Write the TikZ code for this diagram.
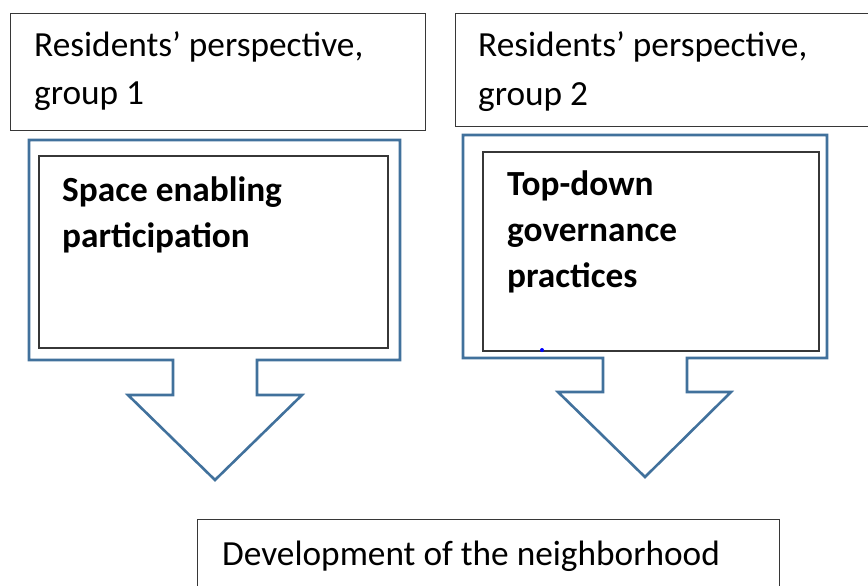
\documentclass[tikz,border=0pt]{standalone}
\usepackage{fontspec}
\setmainfont{Carlito}
\usepackage{xcolor}
\usetikzlibrary{positioning,calc}
\definecolor{calloutblue}{RGB}{65,113,156}
\definecolor{boxgray}{RGB}{55,55,55}

\begin{document}
\begin{tikzpicture}[x=1pt,y=-1pt,
  outerbox/.style={rectangle, draw=boxgray, line width=1.3pt, fill=white, inner sep=0pt, anchor=north west},
  innerbox/.style={rectangle, draw=boxgray, line width=1.6pt, fill=white, inner sep=0pt, anchor=north west},
  callout/.style={draw=calloutblue, line width=2.6pt, fill=white, line join=miter},
  plaintext/.style={align=left, inner sep=0pt, anchor=base west, font=\fontsize{35.3}{49}\selectfont},
  boldtext/.style={align=left, inner sep=0pt, anchor=base west, font=\fontsize{35.3}{46}\selectfont\bfseries}]

\useasboundingbox (0,0) rectangle (868,586);
\clip (0,0) rectangle (868,586);

% perspectives (text nodes sit on their last baseline)
\node[outerbox, minimum width=415pt, minimum height=117pt] (group_one) at (10,13) {};
\node[outerbox, minimum width=430pt, minimum height=113pt] (group_two) at (455,13) {};
\node[plaintext] (group_one_text) at (34,105) {Residents’ perspective,\\group 1};
\node[plaintext] (group_two_text) at (478,106) {Residents’ perspective,\\group 2};

% down arrow callouts
\draw[callout] (29,140) -- (400,140) -- (400,360) -- (257,360) -- (257,395) -- (302,395)
  -- (215,480) -- (128,395) -- (173,395) -- (173,360) -- (29,360) -- cycle;
\draw[callout] (463,135) -- (827,135) -- (827,358) -- (687,358) -- (687,392) -- (731,392)
  -- (645,477) -- (558,392) -- (603,392) -- (603,358) -- (463,358) -- cycle;

\node[innerbox, minimum width=349pt, minimum height=192pt] (space_box) at (38,155) {};
\node[innerbox, minimum width=336pt, minimum height=199pt] (topdown_box) at (482,151) {};
\node[boldtext] (space_text) at (62,247) {Space enabling\\participation};
\node[boldtext] (topdown_text) at (507,287) {Top-down\\governance\\practices};
\fill[blue] (542,350) circle (2pt);

% outcome
\node[outerbox, minimum width=582pt, minimum height=100pt] (development) at (197,519) {};
\node[plaintext] (development_text) at (222,565) {Development of the neighborhood};

\end{tikzpicture}
\end{document}
